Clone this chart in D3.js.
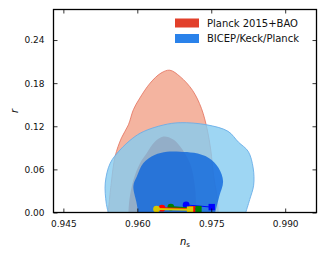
<!DOCTYPE html>
<html>
<head>
<meta charset="utf-8">
<script src="https://cdn.jsdelivr.net/npm/d3@7"></script>
<style>
    body { margin: 0; background: #fff; }
    svg { display: block; font-family: "DejaVu Sans", sans-serif; }
</style>
</head>
<body>
<div id="chart"></div>
<script>
// contour outlines, [n_s, r]
let planckOuter = [[0.9541, 0], [0.9547, 0.04], [0.9555, 0.078], [0.9568, 0.104], [0.9582, 0.122], [0.9592, 0.143],
    [0.9604, 0.158], [0.9626, 0.180], [0.9648, 0.194], [0.9666, 0.198], [0.9687, 0.189], [0.9712, 0.170],
    [0.9730, 0.145], [0.9742, 0.115], [0.9749, 0.087], [0.9755, 0.05], [0.9762, 0.02], [0.9764, 0]]
let planckInner = [[0.9582, 0], [0.9584, 0.018], [0.9592, 0.045], [0.9605, 0.068], [0.9619, 0.0825], [0.9635, 0.098],
    [0.9653, 0.1056], [0.9672, 0.102], [0.9687, 0.092], [0.9707, 0.0686], [0.9717, 0.036], [0.9720, 0]]
let bkpOuter = [[0.9541, 0], [0.9537, 0.013], [0.9535, 0.041], [0.9545, 0.0686], [0.9565, 0.087], [0.9590, 0.103],
    [0.9612, 0.1125], [0.9653, 0.1218], [0.9687, 0.125], [0.9741, 0.122], [0.9784, 0.113], [0.9805, 0.098],
    [0.9825, 0.085], [0.9835, 0.062], [0.9836, 0.038], [0.9828, 0.018], [0.9820, 0]]
let bkpInner = [[0.9602, 0], [0.9598, 0.015], [0.9592, 0.037], [0.9599, 0.05], [0.9612, 0.0686], [0.9635, 0.080],
    [0.9660, 0.0845], [0.9687, 0.0847], [0.9715, 0.083], [0.9745, 0.076], [0.9765, 0.062], [0.9774, 0.043],
    [0.9766, 0.022], [0.9758, 0]]

// model predictions: start (circle) -> end (square)
let modelColors = ["#0000ff", "#008000", "#ff0000", "#d8c800"]
let modelStart = [[0.9699, 0.0105], [0.9668, 0.0075], [0.9650, 0.0060], [0.9639, 0.0047]]
let modelEnd = [[0.9751, 0.0075], [0.9724, 0.0047], [0.9711, 0.0045], [0.9707, 0.0040]]
let modelWidth = [1, 2, 2, 2]

let xTicks = [0.945, 0.960, 0.975, 0.990]
let yTicks = [0, 0.06, 0.12, 0.18, 0.24]
let legendLabels = ["Planck 2015+BAO", "BICEP/Keck/Planck"]
let legendColors = ["#e2402b", "#2a82ea"]

let width = 327, height = 257
let margin = { left: 53.5, right: 10.5, top: 9.5, bottom: 44.5 }
let w = width - margin.left - margin.right
let h = height - margin.top - margin.bottom

let svg = d3.select("#chart").append("svg")
    .attr("width", width)
    .attr("height", height)

let x = d3.scaleLinear().domain([0.943, 0.99635]).range([0, w])
let y = d3.scaleLinear().domain([0, 0.2825]).range([h, 0])

let g = svg.append("g").attr("transform", "translate(" + margin.left + "," + margin.top + ")")

g.append("clipPath").attr("id", "plotClip")
    .append("rect").attr("width", w).attr("height", h)

let area = g.append("g").attr("clip-path", "url(#plotClip)")

let contour = d3.line()
    .x(function (d) { return x(d[0]) })
    .y(function (d) { return y(d[1]) })
    .curve(d3.curveCatmullRom)

function drawContour(pts, fill, opacity, stroke) {
    area.append("path")
        .attr("d", contour(pts) + "Z")
        .attr("fill", fill)
        .attr("fill-opacity", opacity)
        .attr("stroke", stroke)
        .attr("stroke-width", stroke == "none" ? 0 : 0.9)
}

drawContour(planckOuter, "#f4b4a0", 1, "#e57a68")
drawContour(planckInner, "#c83a28", 1, "none")
drawContour(bkpOuter, "#86ccf0", 0.8, "#6aaee8")
drawContour(bkpInner, "#0a64dc", 0.78, "none")

// model lines and markers
modelColors.forEach(function (c, i) {
    area.append("line")
        .attr("x1", x(modelStart[i][0])).attr("y1", y(modelStart[i][1]))
        .attr("x2", x(modelEnd[i][0])).attr("y2", y(modelEnd[i][1]))
        .attr("stroke", c)
        .attr("stroke-width", modelWidth[i])
    area.append("rect")
        .attr("x", x(modelEnd[i][0]) - 3.2).attr("y", y(modelEnd[i][1]) - 3.2)
        .attr("width", 6.4).attr("height", 6.4)
        .attr("fill", c)
    area.append("circle")
        .attr("cx", x(modelStart[i][0])).attr("cy", y(modelStart[i][1]))
        .attr("r", 3.4)
        .attr("fill", c)
})

// axes with inward ticks on all sides
let xAxis = g.append("g").attr("transform", "translate(0," + h + ")")
    .call(d3.axisBottom(x).tickValues(xTicks).tickSize(-4).tickPadding(8).tickFormat(d3.format(".3f")))
let xTop = g.append("g")
    .call(d3.axisTop(x).tickValues(xTicks).tickSize(-4).tickFormat(""))
let yAxis = g.append("g")
    .call(d3.axisLeft(y).tickValues(yTicks).tickSize(-4).tickPadding(9).tickFormat(d3.format(".2f")))
let yRight = g.append("g").attr("transform", "translate(" + w + ",0)")
    .call(d3.axisRight(y).tickValues(yTicks).tickSize(-4).tickFormat(""))

g.selectAll(".domain").remove()
g.selectAll(".tick line").attr("stroke", "#000").attr("stroke-width", 0.8)
g.selectAll(".tick text").attr("font-size", 9).attr("fill", "#111").attr("font-family", "DejaVu Sans")

g.append("rect")
    .attr("width", w).attr("height", h)
    .attr("fill", "none")
    .attr("stroke", "#000")
    .attr("stroke-width", 1.3)

// axis labels
let xLabel = svg.append("text")
    .attr("x", margin.left + w / 2)
    .attr("y", 245)
    .attr("text-anchor", "middle")
    .attr("font-size", 10)
    .attr("font-style", "italic")
xLabel.append("tspan").text("n")
xLabel.append("tspan").attr("font-size", 7).attr("font-style", "normal").attr("dy", 2).text("s")

svg.append("text")
    .attr("transform", "translate(18," + (margin.top + h / 2) + ") rotate(-90)")
    .attr("text-anchor", "middle")
    .attr("font-size", 10)
    .attr("font-style", "italic")
    .text("r")

// legend
let legend = svg.append("g").selectAll("g")
    .data(legendLabels)
    .enter()
    .append("g")
    .attr("transform", function (d, i) { return "translate(175," + (18.5 + i * 15.5) + ")" })

legend.append("rect")
    .attr("width", 24)
    .attr("height", 9)
    .attr("fill", function (d, i) { return legendColors[i] })

legend.append("text")
    .attr("x", 32)
    .attr("y", 8.3)
    .attr("font-size", 10)
    .attr("fill", "#111")
    .text(function (d) { return d })
</script>
</body>
</html>
